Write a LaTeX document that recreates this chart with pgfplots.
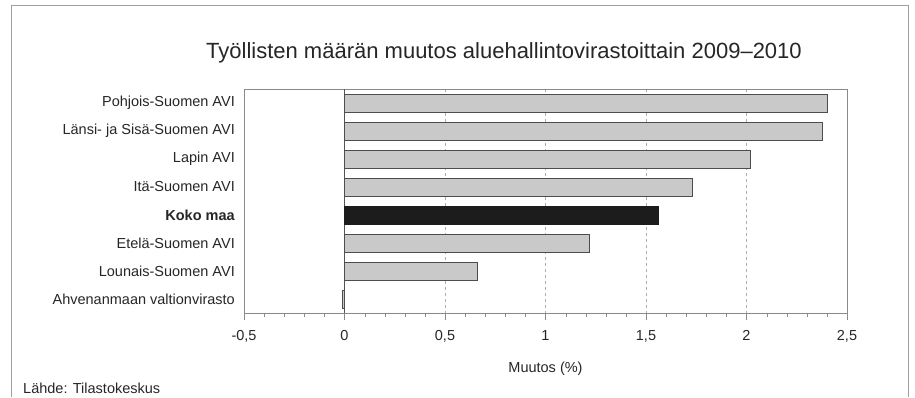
\documentclass[border=0pt]{standalone}
\usepackage{fontspec}
\setmainfont{Liberation Sans}
\usepackage{pgfplots}
\pgfplotsset{compat=1.18}
\definecolor{barfill}{HTML}{C9C9C9}
\definecolor{barline}{HTML}{4D4D4D}
\definecolor{darkbar}{HTML}{1C1C1C}
\definecolor{boxline}{HTML}{8A8A8A}
\definecolor{frameline}{HTML}{A0A0A0}
\begin{document}
\begin{tikzpicture}
\useasboundingbox (0pt,0pt) rectangle (915pt,397pt);
\draw[frameline, line width=1pt] (11pt,0pt) -- (11pt,391pt) -- (908pt,391pt) -- (908pt,0pt);
\node[font=\fontsize{22}{26}\selectfont, text=black!85] at (504pt,344pt) {Työllisten määrän muutos aluehallintovirastoittain 2009–2010};
\node[anchor=west, font=\fontsize{14.5}{17}\selectfont, text=black!85, inner sep=0pt] at (23pt,9pt) {Lähde: Tilastokeskus};
\begin{axis}[
  at={(244pt,84pt)}, anchor=south west,
  scale only axis, width=603pt, height=224pt,
  xbar, bar width=18pt, bar shift=0pt,
  xmin=-0.5, xmax=2.5, ymin=-0.5, ymax=7.5, y dir=reverse,
  ytick={0,1,2,3,4,5,6,7},
  yticklabels={Pohjois-Suomen AVI, Länsi- ja Sisä-Suomen AVI, Lapin AVI, Itä-Suomen AVI, \textbf{Koko maa}, Etelä-Suomen AVI, Lounais-Suomen AVI, Ahvenanmaan valtionvirasto},
  ytick style={draw=none},
  yticklabel style={font=\fontsize{14.5}{17}\selectfont, text=black!85, inner sep=0pt, xshift=-2pt},
  xtick={-0.5,0,0.5,1,1.5,2,2.5},
  minor x tick num=4,
  xtick pos=bottom, tick align=outside,
  major tick length=7pt, minor tick length=4pt,
  tick style={boxline},
  xticklabel style={font=\fontsize{14.5}{17}\selectfont, text=black!85, yshift=-7pt},
  /pgf/number format/use comma,
  /pgf/number format/assume math mode=true,
  xmajorgrids, grid style={dashed, boxline!70},
  axis line style={boxline},
  xlabel={Muutos (\%)},
  xlabel style={font=\fontsize{14.5}{17}\selectfont, text=black!85, yshift=-13pt},
]
\draw[boxline!60!black] (axis cs:0,-0.5) -- (axis cs:0,7.5);
\addplot[fill=barfill, draw=barline, line width=0.8pt] coordinates {
  (2.40,0) (2.38,1) (2.02,2) (1.73,3) (1.22,5) (0.66,6) (-0.01,7)
};
\addplot[fill=darkbar, draw=darkbar, line width=0.8pt] coordinates {
  (1.56,4)
};
\end{axis}
\end{tikzpicture}
\end{document}
